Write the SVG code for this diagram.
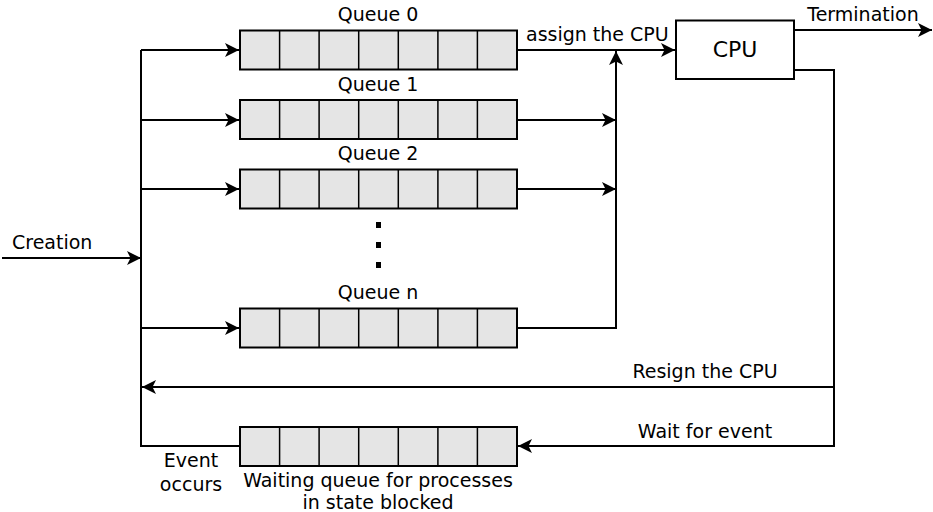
<svg xmlns="http://www.w3.org/2000/svg" width="933" height="512" viewBox="0 0 933 512">
<style>
text{font-family:"DejaVu Sans",sans-serif;font-size:19px;fill:#000}
.q{fill:#e5e5e5;stroke:#000;stroke-width:2}
.c{fill:none;stroke:#000;stroke-width:1.5}
.l{fill:none;stroke:#000;stroke-width:2}
</style>
<defs>
<marker id="ah" markerWidth="16" markerHeight="16" refX="14" refY="7" orient="auto" markerUnits="userSpaceOnUse">
<path d="M0,0 L14,7 L0,14 L3.5,7 Z" fill="#000"/>
</marker>
<g id="cells">
<rect class="q" x="0" y="0" width="277" height="39"/>
<path class="c" d="M39.6,0V39M79.1,0V39M118.7,0V39M158.3,0V39M197.9,0V39M237.4,0V39"/>
</g>
</defs>
<g id="connectors">
<path class="l" d="M141,50V446H240"/>
<path class="l" d="M141,50H239" marker-end="url(#ah)"/>
<path class="l" d="M141,120H239" marker-end="url(#ah)"/>
<path class="l" d="M141,189H239" marker-end="url(#ah)"/>
<path class="l" d="M141,328H239" marker-end="url(#ah)"/>
<path class="l" d="M2,258H141" marker-end="url(#ah)"/>
<path class="l" d="M517,50H675" marker-end="url(#ah)"/>
<path class="l" d="M517,328H616V51" marker-end="url(#ah)"/>
<path class="l" d="M517,120H616" marker-end="url(#ah)"/>
<path class="l" d="M517,189H616" marker-end="url(#ah)"/>
<path class="l" d="M794,30H932" marker-end="url(#ah)"/>
<path class="l" d="M794,70H834V446H518" marker-end="url(#ah)"/>
<path class="l" d="M834,387H142" marker-end="url(#ah)"/>
</g>
<g id="queue0"><use href="#cells" x="240" y="30.5"/><text x="378" y="21" text-anchor="middle">Queue 0</text></g>
<g id="queue1"><use href="#cells" x="240" y="100"/><text x="378" y="91" text-anchor="middle">Queue 1</text></g>
<g id="queue2"><use href="#cells" x="240" y="169.5"/><text x="378" y="160" text-anchor="middle">Queue 2</text></g>
<g id="dots" fill="#000"><rect x="376" y="222" width="5" height="6"/><rect x="376" y="242" width="5" height="6"/><rect x="376" y="262" width="5" height="6"/></g>
<g id="queuen"><use href="#cells" x="240" y="308.5"/><text x="378" y="299" text-anchor="middle">Queue n</text></g>
<g id="waiting"><use href="#cells" x="240" y="427"/><text x="378" y="487" text-anchor="middle">Waiting queue for processes</text><text x="378" y="509" text-anchor="middle">in state blocked</text></g>
<g id="cpu"><rect x="676" y="20.5" width="118" height="58.5" fill="#fff" stroke="#000" stroke-width="2"/><text x="735" y="57" text-anchor="middle" style="font-size:22px">CPU</text></g>
<g id="labels">
<text x="12" y="249">Creation</text>
<text x="526" y="41">assign the CPU</text>
<text x="863" y="21" text-anchor="middle">Termination</text>
<text x="705" y="378" text-anchor="middle">Resign the CPU</text>
<text x="705" y="438" text-anchor="middle">Wait for event</text>
<text x="191" y="467" text-anchor="middle">Event</text>
<text x="191" y="491" text-anchor="middle">occurs</text>
</g>
</svg>
